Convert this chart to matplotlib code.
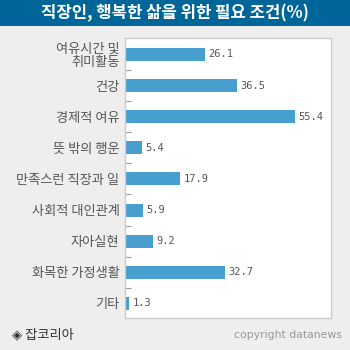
import matplotlib
matplotlib.use("Agg")
import matplotlib.pyplot as plt
from matplotlib.patches import Rectangle

plt.rcParams['font.family'] = ['Noto Sans CJK KR', 'DejaVu Sans']

title = "직장인, 행복한 삶을 위한 필요 조건(%)"
categories = ["여유시간 및\n취미활동", "건강", "경제적 여유", "뜻 밖의 행운",
              "만족스런 직장과 일", "사회적 대인관계", "자아실현",
              "화목한 가정생활", "기타"]
values = [26.1, 36.5, 55.4, 5.4, 17.9, 5.9, 9.2, 32.7, 1.3]
source = "◈ 잡코리아"
credit = "copyright datanews"

BG = "#eeeeee"
HEADER = "#006699"
BAR = "#469fcf"
TEXT = "#555555"
EDGE = "#cccccc"

W = H = 350
fig = plt.figure(figsize=(3.5, 3.5), dpi=100, facecolor=BG)

# header band with title
fig.patches.append(Rectangle((0, 1 - 26 / H), 1, 26 / H, transform=fig.transFigure,
                             facecolor=HEADER, edgecolor="none", zorder=0))
fig.text(0.5, 1 - 13 / H, title, color="white", fontsize=12, fontweight="bold",
         ha="center", va="center")

ax = fig.add_axes([125 / W, (H - 318) / H, 206 / W, 280 / H])
ax.set_facecolor("white")
pos = list(range(len(categories)))
ax.barh(pos, values, height=0.42, color=BAR, zorder=2)
ax.set_xlim(0, 67.2)
ax.set_ylim(8.47, -0.53)

for i, v in zip(pos, values):
    ax.annotate(f"{v:.1f}", (v, i), xytext=(2.5, 0), textcoords="offset points",
                ha="left", va="center", fontsize=7.5, color=TEXT,
                family=["DejaVu Sans Mono"])

ax.set_yticks(pos)
ax.set_yticklabels(categories, fontsize=9.5, color=TEXT, linespacing=1.0)
ax.tick_params(axis="y", which="major", length=0, pad=4)
ax.set_yticks([p + 0.5 for p in pos[:-1]], minor=True)
ax.tick_params(axis="y", which="minor", direction="in", length=4, width=0.8,
               color="#999999")
ax.set_xticks([])
for s in ax.spines.values():
    s.set_color(EDGE)
    s.set_linewidth(1.0)

fig.text(12 / W, 1 - 335 / H, source, fontsize=9.5, color="#333333",
         ha="left", va="center")
fig.text(342 / W, 1 - 335 / H, credit, fontsize=7.8, color="#999999",
         ha="right", va="center", family=["DejaVu Sans"])

fig.savefig("out.png", dpi=100, facecolor=BG)
